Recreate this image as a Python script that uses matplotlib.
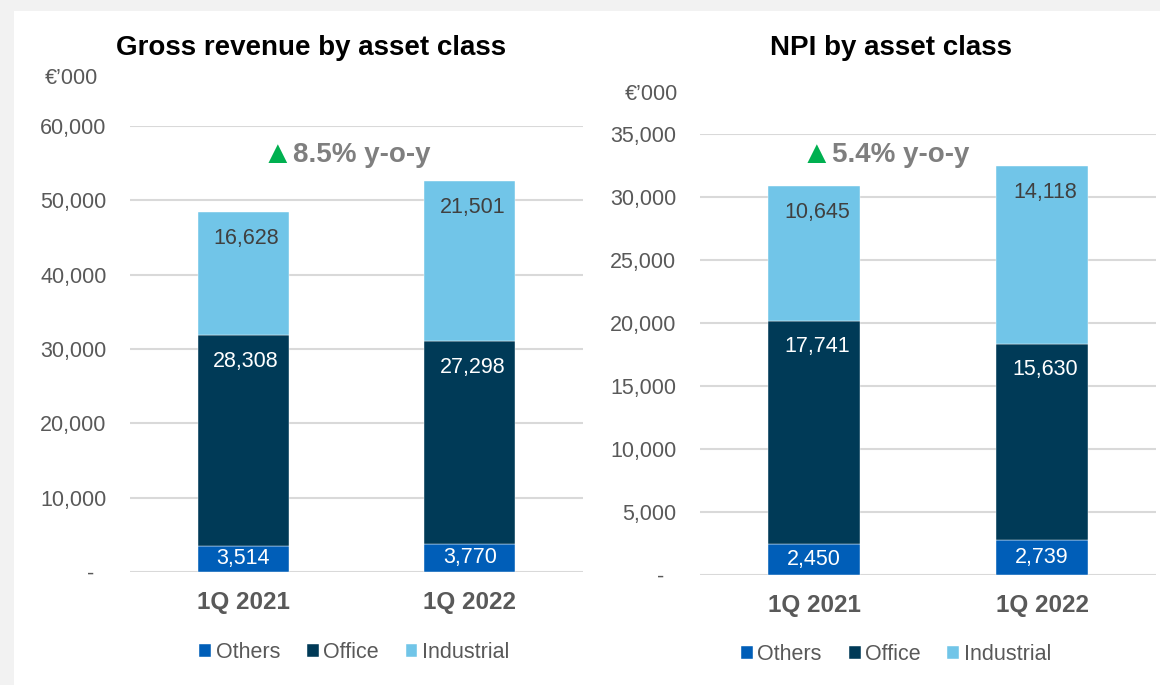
import matplotlib
matplotlib.use("Agg")
import matplotlib.pyplot as plt
from matplotlib.patches import Rectangle
from matplotlib.ticker import FuncFormatter

plt.rcParams["font.family"] = ["Liberation Sans", "DejaVu Sans"]

quarters = ["1Q 2021", "1Q 2022"]
series = ["Others", "Office", "Industrial"]

rev_others = [3514, 3770]
rev_office = [28308, 27298]
rev_industrial = [16628, 21501]

npi_others = [2450, 2739]
npi_office = [17741, 15630]
npi_industrial = [10645, 14118]

rev_growth = "8.5% y-o-y"
npi_growth = "5.4% y-o-y"

colors = {"Others": "#005EB8", "Office": "#003A57", "Industrial": "#71C5E8"}
label_colors = {"Others": "white", "Office": "white", "Industrial": "#404040"}
grey = "#595959"


def fmt(v, pos=None):
    if v == 0:
        return "-  "
    return f"{v:,.0f}"


def stacked(ax, others, office, industrial, ymax, step, growth, gx, gy, lx):
    x = list(range(len(quarters)))
    bottom = [0] * len(x)
    for name, vals in zip(series, [others, office, industrial]):
        bars = ax.bar(x, vals, 0.4, bottom=bottom, color=colors[name],
                      label=name, edgecolor="white", linewidth=0.3, zorder=3)
        for p, v in zip(bars, vals):
            cx = p.get_x() + p.get_width() / 2
            if name == "Others":
                ax.annotate(f"{v:,}", (cx, p.get_y() + p.get_height() / 2),
                            ha="center", va="center", fontsize=15.5,
                            color=label_colors[name], zorder=4)
            else:
                ax.annotate(f"{v:,}", (cx, p.get_y() + p.get_height()),
                            xytext=(2, -19), textcoords="offset points",
                            ha="center", va="center", fontsize=15.5,
                            color=label_colors[name], zorder=4)
        bottom = [b + v for b, v in zip(bottom, vals)]

    ax.set_xlim(-0.5, 1.5)
    ax.set_ylim(0, ymax)
    ax.set_yticks(range(0, ymax + 1, step))
    ax.yaxis.set_major_formatter(FuncFormatter(fmt))
    ax.set_xticks(x)
    ax.set_xticklabels(quarters, fontsize=17.5, fontweight="bold", color=grey)
    ax.tick_params(axis="x", length=0, pad=14)
    ax.tick_params(axis="y", length=0, pad=17, labelsize=15.5, labelcolor=grey)
    ax.grid(axis="y", color="#D9D9D9", linewidth=1.5, zorder=0)
    for s in ax.spines.values():
        s.set_visible(False)

    ax.text(gx, gy, "\u25B2", ha="right", va="center", fontsize=23,
            color="#00B050")
    ax.text(gx, gy, growth, ha="left", va="center", fontsize=20,
            fontweight="bold", color="#7F7F7F")

    ax.legend(loc="center", bbox_to_anchor=(lx, -0.18), ncol=3,
              frameon=False, fontsize=15.5, handlelength=0.55,
              handleheight=0.55, handletextpad=0.2, columnspacing=1.25,
              labelcolor=grey)


fig = plt.figure(figsize=(11.6, 6.85), dpi=100, facecolor="#F2F2F2")
fig.patches.append(Rectangle((14 / 1160, 0), 1, 1 - 11 / 685,
                             transform=fig.transFigure, facecolor="white",
                             edgecolor="none", zorder=-1))

ax1 = fig.add_axes([130 / 1160, 113 / 685, 453 / 1160, 446 / 685])
stacked(ax1, rev_others, rev_office, rev_industrial, 60000, 10000,
        rev_growth, 0.22, 56100, 0.495)

ax2 = fig.add_axes([700 / 1160, 110 / 685, 456 / 1160, 441 / 685])
stacked(ax2, npi_others, npi_office, npi_industrial, 35000, 5000,
        npi_growth, 0.08, 33300, 0.43)

fig.text(311 / 1160, 1 - 48 / 685, "Gross revenue by asset class",
         ha="center", va="center", fontsize=20, fontweight="bold")
fig.text(891 / 1160, 1 - 48 / 685, "NPI by asset class",
         ha="center", va="center", fontsize=20, fontweight="bold")
fig.text(98 / 1160, 1 - 79 / 685, "\u20ac\u2019000", ha="right", va="center",
         fontsize=15.5, color=grey)
fig.text(678 / 1160, 1 - 95 / 685, "\u20ac\u2019000", ha="right", va="center",
         fontsize=15.5, color=grey)

fig.savefig("out.png", dpi=100, facecolor=fig.get_facecolor())
